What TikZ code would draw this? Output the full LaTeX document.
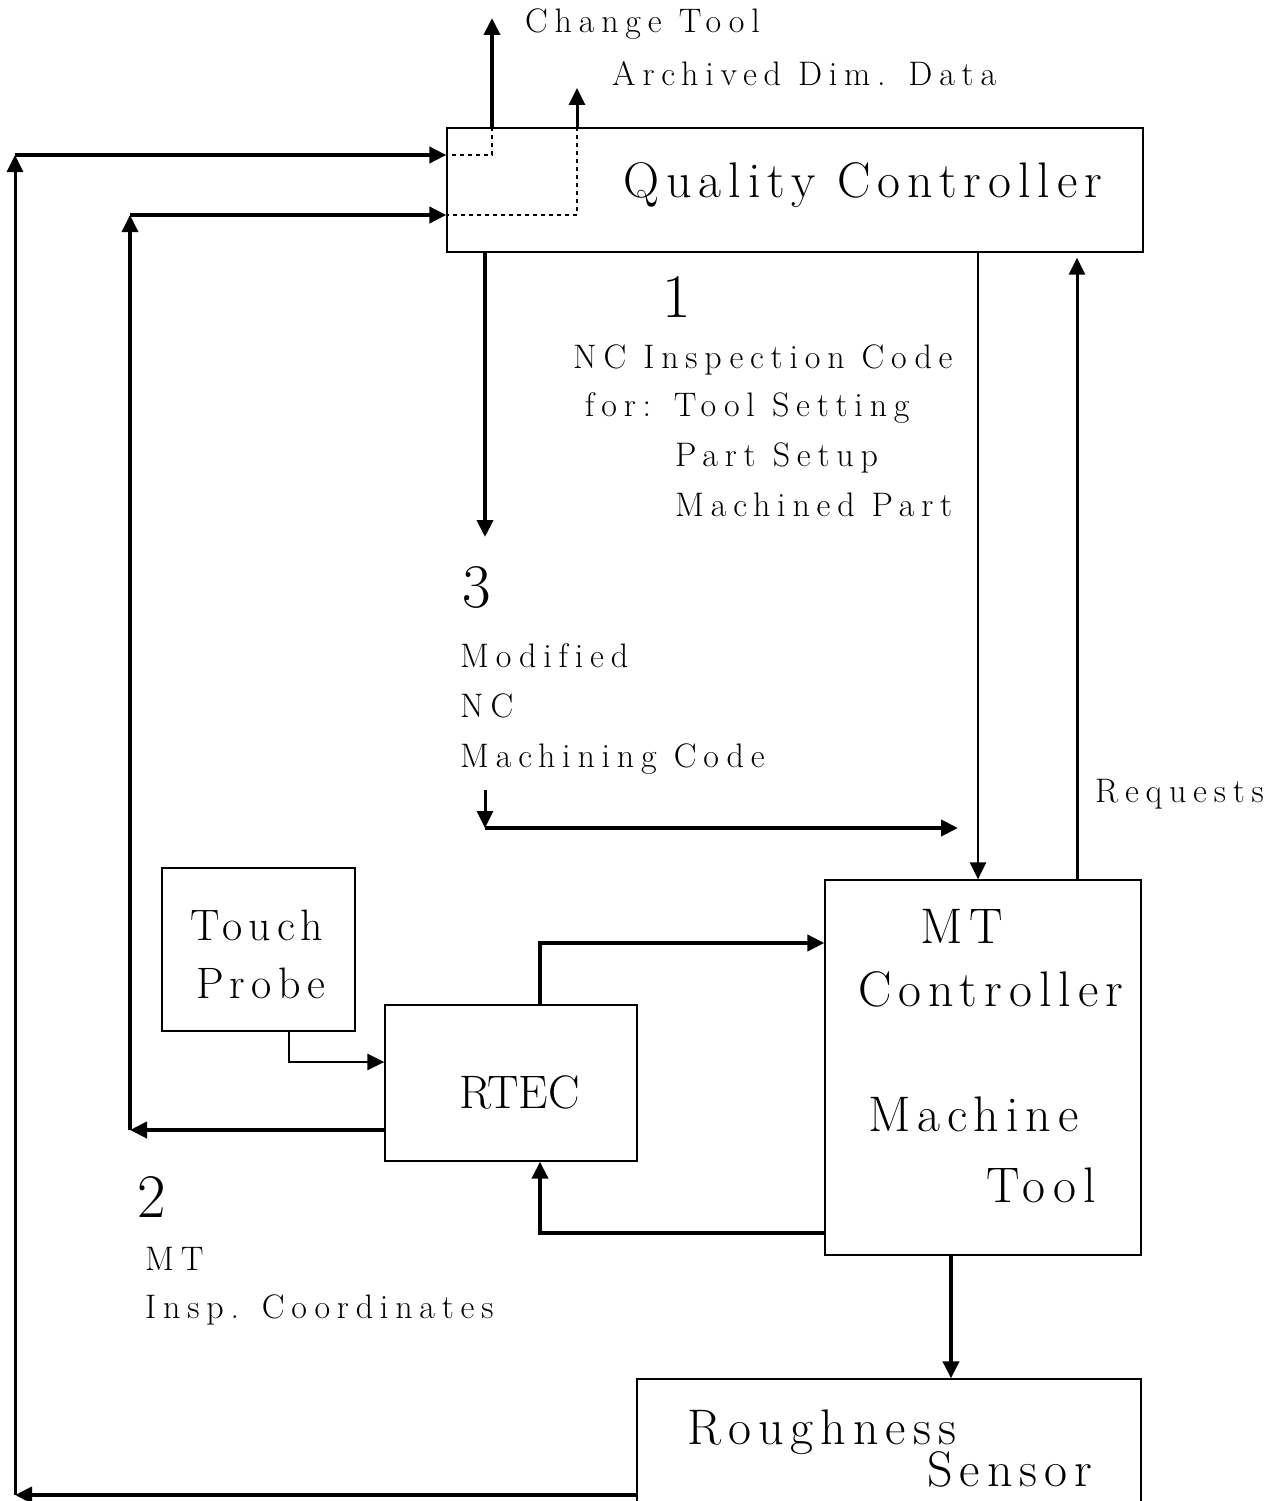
\documentclass[tikz,border=0pt]{standalone}
\usepackage{fontspec}
\setmainfont{Latin Modern Roman}
\newfontfamily\lblfont{Latin Modern Roman}[LetterSpace=20,Ligatures=CommonOff]
\newfontfamily\boxfont{Latin Modern Roman}[LetterSpace=14,Ligatures=CommonOff]
\usetikzlibrary{arrows.meta,positioning,calc}
\tikzset{
  blk/.style={draw,line width=1.3pt,inner sep=0pt},
  flow/.style={-{Triangle[length=17pt,width=16pt]},line width=4pt},
  thinflow/.style={flow,line width=2.5pt},
  dotline/.style={line width=1.2pt,dash pattern=on 4pt off 4pt},
  lab/.style={font=\lblfont\fontsize{34}{38}\selectfont,anchor=base west,inner sep=0pt},
  boxlab/.style={font=\boxfont\fontsize{50}{56}\selectfont,anchor=base west,inner sep=0pt},
  num/.style={font=\fontsize{62}{64}\selectfont,anchor=base west,inner sep=0pt},
}

\begin{document}
\begin{tikzpicture}[x=1pt,y=-1pt]
  \clip (0,0) rectangle (1286,1501);
  % --- blocks ---
  \node[blk,minimum width=696pt,minimum height=124pt] (qc)   at (795,190)    {};
  \node[blk,minimum width=193pt,minimum height=163pt] (tp)   at (258.5,949.5) {};
  \node[blk,minimum width=252pt,minimum height=156pt] (rtec) at (511,1083)   {};
  \node[blk,minimum width=316pt,minimum height=375pt] (mt)   at (983,1067.5) {};
  \node[blk,minimum width=504pt,minimum height=150pt] (rs)   at (889,1454)   {};
  % --- block texts ---
  \node[boxlab] (qcA) at (623,197) {Quality Controller};
  \node[boxlab,font=\boxfont\fontsize{44}{50}\selectfont] (tpA) at (190,940) {Touch};
  \node[boxlab,font=\boxfont\fontsize{44}{50}\selectfont] (tpB) at (196,998) {Probe};
  \node[boxlab,font=\rmfamily\fontsize{47}{52}\selectfont] (rtA) at (459,1108) {RTEC};
  \node[boxlab] (mtA) at (920,943)  {MT};
  \node[boxlab] (mtB) at (858,1006) {Controller};
  \node[boxlab] (mtC) at (868,1131) {Machine};
  \node[boxlab] (mtD) at (986,1202) {Tool};
  \node[boxlab] (rsA) at (687,1444) {Roughness};
  \node[boxlab] (rsB) at (927,1486) {Sensor};
  % --- outputs at the top ---
  \coordinate (ct) at (492,18);
  \coordinate (ad) at (577,88);
  \draw[flow] (ct |- qc.north) -- (ct);
  \draw[flow,line width=3pt] (ad |- qc.north) -- (ad);
  \node[lab] (ctA) at (525,33) {Change Tool};
  \node[lab] (adA) at (612,86) {Archived Dim. Data};
  % dashed paths inside the controller
  \coordinate (hi) at (15,155);
  \coordinate (ih) at (130,215);
  \draw[dotline] (ct |- qc.north) |- (hi -| qc.west);
  \draw[dotline] (ad |- qc.north) |- (ih -| qc.west);
  % --- outer loop from roughness sensor ---
  \coordinate (lo) at (15,1495);
  \draw[flow] (rs.west |- lo) -- (lo);
  \draw[flow,line width=3pt] (lo) -- (hi);
  \draw[flow] (hi) -- (hi -| qc.west);
  % --- inner loop from RTEC (2) ---
  \coordinate (il) at (130,1130);
  \draw[flow] (rtec.west |- il) -- (il);
  \draw[flow,line width=3.5pt] (il) -- (ih);
  \draw[flow] (ih) -- (ih -| qc.west);
  \node[num] (n2) at (137,1217) {2};
  \node[lab] (n2A) at (145,1270) {MT};
  \node[lab] (n2B) at (145,1318) {Insp. Coordinates};
  % --- modified NC code (3) ---
  \coordinate (m3) at (485,537);
  \draw[flow] (m3 |- qc.south) -- (m3);
  \node[num] (n3) at (462,607) {3};
  \node[lab] (n3A) at (460,667) {Modified};
  \node[lab] (n3B) at (460,717) {NC};
  \node[lab] (n3C) at (460,767) {Machining Code};
  \coordinate (m4) at (485,790);
  \coordinate (m5) at (485,828);
  \coordinate (m6) at (958,828);
  \draw[flow,line width=3pt] (m4) -- (m5);
  \draw[flow] (m5) -- (m6);
  % --- NC inspection code (1) and requests ---
  \coordinate (ic) at (978,0);
  \coordinate (rq) at (1077,0);
  \draw[thinflow] (qc.south -| ic) -- (mt.north -| ic);
  \draw[flow,line width=3pt,shorten >=5pt] (mt.north -| rq) -- (qc.south -| rq);
  \node[num] (n1) at (662,317) {1};
  \node[lab] (n1A) at (573,368) {NC Inspection Code};
  \node[lab] (n1B) at (585,416) {for: Tool Setting};
  \node[lab] (n1C) at (675,466) {Part Setup};
  \node[lab] (n1D) at (675,516) {Machined Part};
  \node[lab] (rqA) at (1095,802) {Requests};
  % --- around the RTEC ---
  \coordinate (r1) at (540,943);
  \coordinate (t1) at (289,1062);
  \coordinate (t2) at (540,1233);
  \coordinate (t3) at (951,0);
  \draw[flow] (rtec.north -| r1) |- (mt.west |- r1);
  \draw[thinflow] (tp.south -| t1) |- (rtec.west |- t1);
  \draw[flow] (mt.west |- t2) -| (rtec.south -| t2);
  \draw[flow] (mt.south -| t3) -- (rs.north -| t3);
\end{tikzpicture}
\end{document}
